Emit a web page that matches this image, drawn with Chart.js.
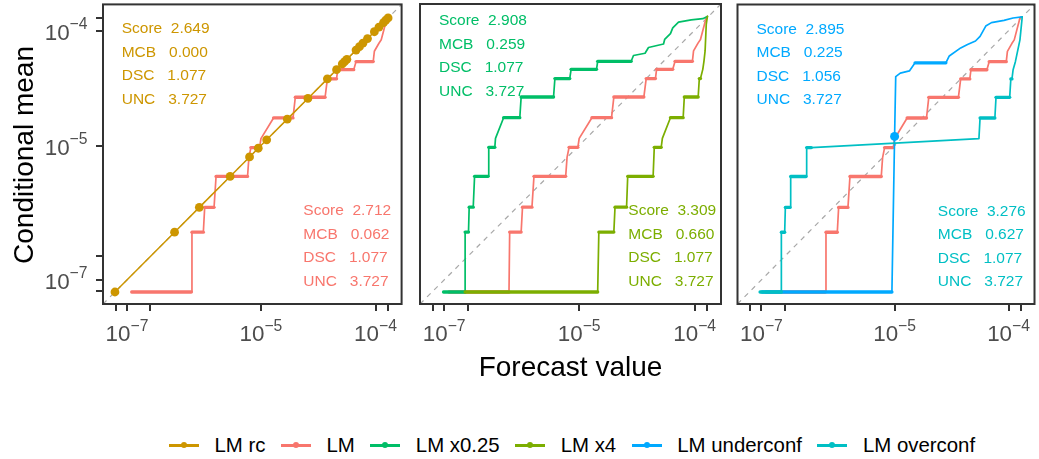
<!DOCTYPE html>
<html>
<head>
<meta charset="utf-8">
<script src="https://cdn.jsdelivr.net/npm/chart.js@4.4.1/dist/chart.umd.min.js"></script>
<style>
  html, body { margin: 0; padding: 0; background: #fff; }
  #wrap { position: relative; width: 1039px; height: 459px; overflow: hidden;
          font-family: "Liberation Sans", Arial, Helvetica, sans-serif; }
  #wrap canvas { position: absolute; top: 0; }
  #legend { position: absolute; left: 169px; top: 433px; display: flex; align-items: center;
            font-size: 20.4px; line-height: 24px; color: #000; white-space: nowrap; }
  .item { display: flex; align-items: center; margin-right: 15.5px; }
  .key { position: relative; width: 30px; height: 24px; margin-right: 15.5px; }
  .key .ln { position: absolute; left: 0; right: 0; top: 11px; height: 2.5px; }
  .key .dot { position: absolute; left: 12px; top: 9.25px; width: 6px; height: 6px; border-radius: 50%; }
</style>
</head>
<body>
<div id="wrap">
  <canvas id="p1" width="406" height="390" style="left:0px;width:406px;height:390px"></canvas>
  <canvas id="p2" width="307" height="390" style="left:416px;width:307px;height:390px"></canvas>
  <canvas id="p3" width="306" height="390" style="left:733px;width:306px;height:390px"></canvas>
  <div id="legend"></div>
</div>
<script>
// all values are log10 of the forecast value (x) and conditional mean (y)

const seriesNames = ['LM rc', 'LM', 'LM x0.25', 'LM x4', 'LM underconf', 'LM overconf'];
const seriesColors = ['#CD9600', '#F8766D', '#00BE67', '#7CAE00', '#00A9FF', '#00BFC4'];

const lmX = [-6.93, -6.04, -6.03, -5.86, -5.84, -5.70, -5.67, -5.20, -5.18, -5.15, -5.02, -5.00, -4.89, -4.72,
             -4.70, -4.44, -4.42, -4.34, -4.33, -4.19, -4.17, -4.02, -4.01, -3.97, -3.95, -3.90, -3.89];
const lmY = [-7.18, -7.18, -6.29, -6.29, -5.92, -5.92, -5.46, -5.46, -5.18, -5.03, -5.03, -4.94, -4.76, -4.76,
             -4.58, -4.58, -4.42, -4.42, -4.34, -4.34, -4.27, -4.27, -4.18, -4.11, -4.08, -3.89, -3.88];

const rcX = [-7.18, -6.29, -5.92, -5.46, -5.17, -5.04, -4.95, -4.77, -4.59, -4.42, -4.34, -4.29,
             -4.27, -4.25, -4.17, -4.14, -4.11, -4.07, -4.01, -3.97, -3.93, -3.91, -3.89];
const rcY = [-7.18, -6.29, -5.92, -5.46, -5.17, -5.04, -4.95, -4.77, -4.59, -4.42, -4.34, -4.29,
             -4.27, -4.25, -4.17, -4.14, -4.11, -4.07, -4.01, -3.97, -3.93, -3.91, -3.89];

const x025X = [-7.01, -6.69, -6.69, -6.64, -6.63, -6.57, -6.55, -6.35, -6.34, -6.25, -6.24, -6.12, -5.88, -5.86,
               -5.38, -5.36, -5.14, -5.12, -4.85, -4.84, -4.55, -4.53, -4.43, -4.40, -4.27, -4.26, -4.21, -4.19,
               -4.14, -4.03, -3.93, -3.89];
const x025Y = [-7.18, -7.18, -6.29, -6.29, -5.92, -5.92, -5.46, -5.46, -5.03, -5.03, -4.94, -4.76, -4.76, -4.58,
               -4.58, -4.42, -4.42, -4.34, -4.34, -4.27, -4.27, -4.22, -4.20, -4.15, -4.12, -4.08, -4.03, -3.98,
               -3.93, -3.91, -3.90, -3.88];

const x4X = [-6.69, -4.84, -4.83, -4.70, -4.69, -4.59, -4.58, -4.36, -4.35, -4.29, -4.28, -4.21, -4.10, -4.09,
             -3.97, -3.96, -3.95, -3.93, -3.92, -3.91, -3.90, -3.89];
const x4Y = [-7.18, -7.18, -6.29, -6.29, -5.92, -5.92, -5.46, -5.46, -5.03, -5.03, -4.94, -4.76, -4.76, -4.58,
             -4.58, -4.42, -4.42, -4.34, -4.27, -4.18, -3.95, -3.88];

const underX = [-6.99, -5.04, -5.00, -4.99, -4.95, -4.87, -4.82, -4.55, -4.52, -4.42, -4.36, -4.29, -4.25, -4.20,
                -4.15, -4.04, -3.96, -3.88];
const underY = [-7.18, -7.18, -4.92, -4.40, -4.37, -4.35, -4.28, -4.28, -4.22, -4.15, -4.12, -4.09, -4.05, -3.96,
                -3.93, -3.91, -3.89, -3.88];
const underDotX = [-5.00];
const underDotY = [-4.92];

const overX = [-7.02, -6.70, -6.70, -6.65, -6.64, -6.57, -6.56, -6.33, -6.32, -6.25, -4.26, -4.25, -4.12, -4.11,
               -3.99, -3.98, -3.97, -3.96, -3.94, -3.90, -3.88];
const overY = [-7.18, -7.18, -6.29, -6.29, -5.92, -5.92, -5.46, -5.46, -5.03, -5.03, -4.94, -4.76, -4.76, -4.58,
               -4.58, -4.42, -4.42, -4.34, -4.27, -4.08, -3.88];

const scoreNames = ['Score', 'MCB', 'DSC', 'UNC'];
const rcScores = [2.649, 0.000, 1.077, 3.727];
const lmScores = [2.712, 0.062, 1.077, 3.727];
const x025Scores = [2.908, 0.259, 1.077, 3.727];
const x4Scores = [3.309, 0.660, 1.077, 3.727];
const underScores = [2.895, 0.225, 1.056, 3.727];
const overScores = [3.276, 0.627, 1.077, 3.727];

// axis: log10 with a break in slope at 1e-5
const axisMin = -7.3585, axisMax = -3.7723;
const axisKnots = [[axisMin, 0], [-5, 0.5289], [axisMax, 1]];
const tickValues = [-7.17, -7, -6.65, -5, -4, -3.89];
const labelledTicks = [-7, -5, -4];

const FONT = '"Liberation Sans", Arial, Helvetica, sans-serif';
Chart.defaults.font.family = FONT;

function warp(v) {
  for (let i = 1; i < axisKnots.length; i++) {
    const [a, fa] = axisKnots[i - 1], [b, fb] = axisKnots[i];
    if (v <= b || i === axisKnots.length - 1) return fa + (v - a) / (b - a) * (fb - fa);
  }
}
function unwarp(f) {
  for (let i = 1; i < axisKnots.length; i++) {
    const [a, fa] = axisKnots[i - 1], [b, fb] = axisKnots[i];
    if (f <= fb || i === axisKnots.length - 1) return a + (f - fa) / (fb - fa) * (b - a);
  }
}

const LinearScale = Chart.LinearScale || Chart.registry.getScale('linear');
class BrokenLogScale extends LinearScale {
  buildTicks() { return tickValues.map(v => ({ value: v })); }
  getPixelForValue(value) {
    if (value === null || value === undefined || isNaN(value)) return NaN;
    return this.getPixelForDecimal(warp(value));
  }
  getValueForPixel(pixel) { return unwarp(this.getDecimalForPixel(pixel)); }
}
BrokenLogScale.id = 'brokenlog';
BrokenLogScale.defaults = {};
Chart.register(BrokenLogScale);

function pts(xs, ys) { return xs.map((x, i) => ({ x: x, y: ys[i] })); }

function stepLine(name, xs, ys) {
  const color = seriesColors[seriesNames.indexOf(name)];
  return {
    label: name, data: pts(xs, ys), showLine: true,
    borderColor: color, backgroundColor: color, borderWidth: 1.7,
    borderCapStyle: 'round', borderJoinStyle: 'round', pointRadius: 0,
    segment: { borderWidth: c => (c.p0.parsed.y === c.p1.parsed.y ? 3.3 : 1.7) }
  };
}

function diagonal() {
  return {
    label: 'diag', data: pts([axisMin, axisMax], [axisMin, axisMax]), showLine: true,
    borderColor: '#a8a8a8', borderWidth: 1.2, borderDash: [5, 5], pointRadius: 0
  };
}

function axisCfg(pos, fit) {
  return {
    type: 'brokenlog', position: pos, min: axisMin, max: axisMax,
    ticks: { display: false },
    grid: { display: true, drawOnChartArea: false, drawTicks: true, tickLength: 7,
            tickWidth: 2, tickColor: '#333333', lineWidth: 2, color: '#333333' },
    border: { display: false },
    afterFit: fit
  };
}

function drawPow(ctx, exp, x, baseY, align) {
  const big = '22.4px ' + FONT, small = '15.7px ' + FONT;
  const sup = '\u2212' + Math.abs(exp);
  ctx.font = big; const w1 = ctx.measureText('10').width;
  ctx.font = small; const w2 = ctx.measureText(sup).width;
  const start = align === 'center' ? x - (w1 + w2) / 2 : x - (w1 + w2);
  ctx.textAlign = 'left'; ctx.textBaseline = 'alphabetic'; ctx.fillStyle = '#4D4D4D';
  ctx.font = big; ctx.fillText('10', start, baseY);
  ctx.font = small; ctx.fillText(sup, start + w1, baseY - 10.5);
}

const gaps = ['  ', '   ', '   ', '   '];

function decor(cfg) {
  return {
    id: 'decor',
    afterDatasetsDraw(chart) {
      const { ctx, chartArea: a } = chart;
      ctx.save();
      ctx.strokeStyle = '#333333'; ctx.lineWidth = 2;
      ctx.strokeRect(a.left, a.top, a.right - a.left, a.bottom - a.top);
      ctx.font = '15.5px ' + FONT; ctx.textAlign = 'left'; ctx.textBaseline = 'alphabetic';
      cfg.blocks.forEach(b => {
        ctx.fillStyle = b.color;
        scoreNames.forEach((n, i) => {
          ctx.fillText(n + gaps[i] + b.scores[i].toFixed(3), a.left + b.dx, a.top + b.dy + i * 23.5);
        });
      });
      ctx.restore();
    },
    afterDraw(chart) {
      const { ctx, chartArea: a, scales } = chart;
      ctx.save();
      labelledTicks.forEach(v => drawPow(ctx, v, scales.x.getPixelForValue(v), a.bottom + 37, 'center'));
      if (cfg.yLabels) {
        labelledTicks.forEach(v => drawPow(ctx, v, a.left - 15.5, scales.y.getPixelForValue(v) + 9, 'right'));
      }
      ctx.fillStyle = '#000'; ctx.font = '28px ' + FONT; ctx.textBaseline = 'alphabetic';
      if (cfg.yTitle) {
        ctx.save(); ctx.translate(33, 155); ctx.rotate(-Math.PI / 2);
        ctx.textAlign = 'center'; ctx.fillText(cfg.yTitle, 0, 0); ctx.restore();
      }
      if (cfg.xTitle) {
        ctx.textAlign = 'center';
        ctx.fillText(cfg.xTitle, (a.left + a.right) / 2, 376);
      }
      ctx.restore();
    }
  };
}

function makePanel(id, datasets, padding, showY, cfg) {
  const scales = {
    x: axisCfg('bottom', s => { s.height = 86; }),
    y: showY ? axisCfg('left', s => { s.width = 103; }) : Object.assign(axisCfg('left'), { display: false })
  };
  new Chart(document.getElementById(id), {
    type: 'scatter',
    data: { datasets: datasets },
    options: {
      responsive: false, maintainAspectRatio: false, animation: false, devicePixelRatio: 1,
      layout: { padding: padding },
      plugins: { legend: { display: false }, tooltip: { enabled: false } },
      scales: scales
    },
    plugins: [decor(cfg)]
  });
}

const rcSet = {
  label: 'LM rc', data: pts(rcX, rcY), showLine: true, borderColor: seriesColors[0],
  backgroundColor: seriesColors[0], borderWidth: 1.5, pointRadius: 4.4, pointBorderWidth: 0
};
const underDot = {
  label: 'LM underconf', data: pts(underDotX, underDotY), showLine: false,
  backgroundColor: seriesColors[4], borderColor: seriesColors[4], pointRadius: 4.5, pointBorderWidth: 0
};

makePanel('p1', [rcSet, stepLine('LM', lmX, lmY), diagonal()],
  { left: 0, right: 2, top: 4, bottom: 0 }, true,
  { yLabels: true, yTitle: 'Conditional mean',
    blocks: [{ scores: rcScores, color: seriesColors[0], dx: 18.7, dy: 29 },
             { scores: lmScores, color: seriesColors[1], dx: 200.3, dy: 211 }] });

makePanel('p2', [stepLine('LM x4', x4X, x4Y), stepLine('LM x0.25', x025X, x025Y), stepLine('LM', lmX, lmY), diagonal()],
  { left: 4, right: 2, top: 4, bottom: 0 }, false,
  { xTitle: 'Forecast value',
    blocks: [{ scores: x025Scores, color: seriesColors[2], dx: 19, dy: 21 },
             { scores: x4Scores, color: seriesColors[3], dx: 208.3, dy: 211 }] });

makePanel('p3', [underDot, stepLine('LM overconf', overX, overY), stepLine('LM underconf', underX, underY),
                 stepLine('LM', lmX, lmY), diagonal()],
  { left: 4, right: 1, top: 4, bottom: 0 }, false,
  { blocks: [{ scores: underScores, color: seriesColors[4], dx: 19, dy: 29 },
             { scores: overScores, color: seriesColors[5], dx: 200.3, dy: 211 }] });

const legend = document.getElementById('legend');
seriesNames.forEach((name, i) => {
  const item = document.createElement('div');
  item.className = 'item';
  const key = document.createElement('span');
  key.className = 'key';
  key.innerHTML = '<i class="ln" style="background:' + seriesColors[i] + '"></i>' +
                  '<i class="dot" style="background:' + seriesColors[i] + '"></i>';
  const txt = document.createElement('span');
  txt.textContent = name;
  item.append(key, txt);
  legend.append(item);
});
</script>
</body>
</html>
